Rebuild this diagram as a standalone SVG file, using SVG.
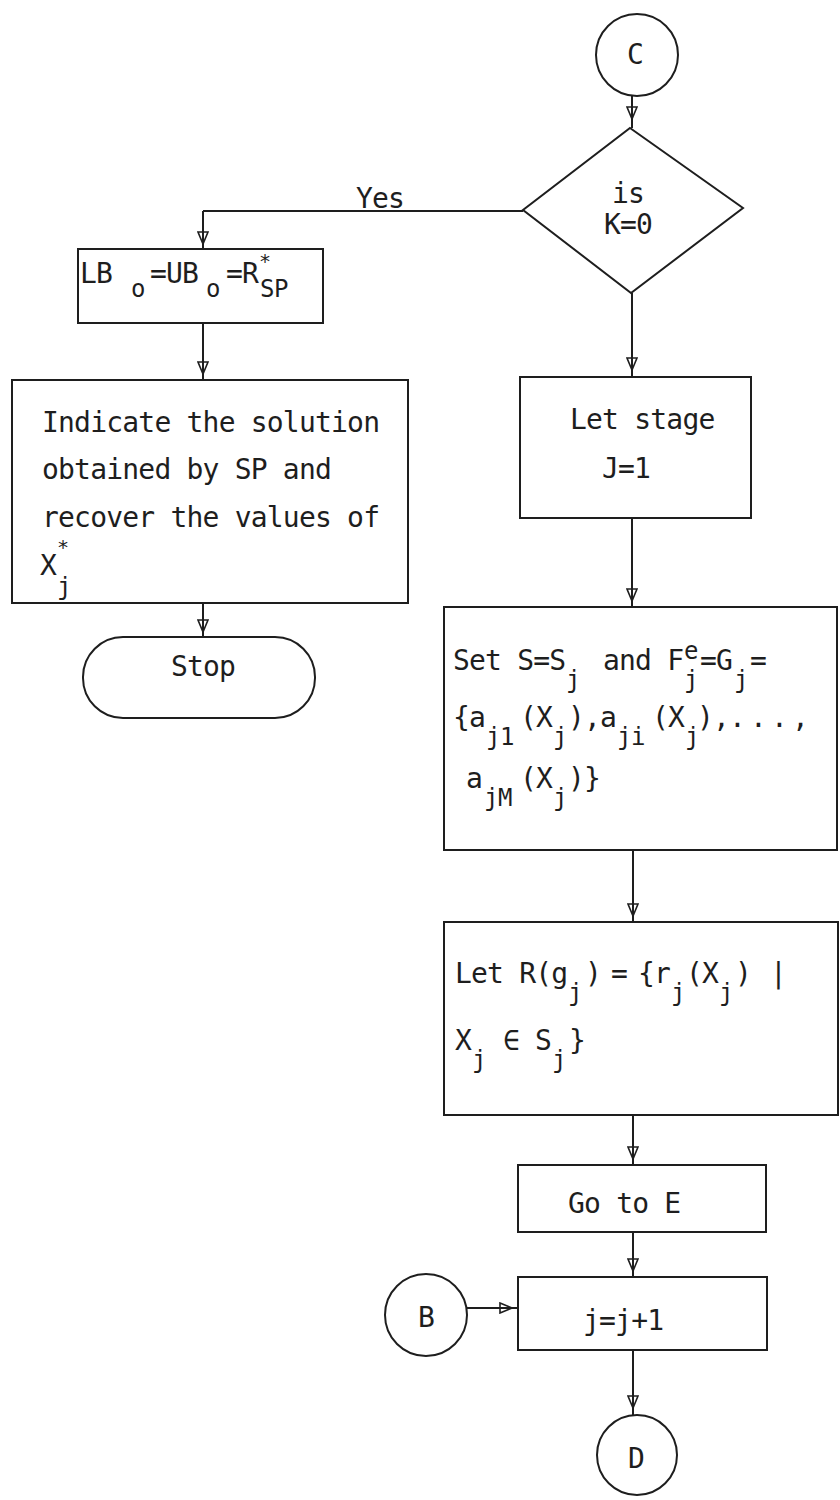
<svg xmlns="http://www.w3.org/2000/svg" width="840" height="1500" viewBox="0 0 840 1500">
<style>
.sh{fill:#fff;stroke:#1e1e1e;stroke-width:2}
.ln{fill:none;stroke:#1e1e1e;stroke-width:2}
.t{font-family:"DejaVu Sans Mono","Liberation Mono",monospace;font-size:28px;fill:#1e1e1e;letter-spacing:-0.8px}
.s{font-size:24px;letter-spacing:-0.4px}
.st{font-size:20px;letter-spacing:0}
.m{text-anchor:middle}
</style>
<defs>
<marker id="ah" viewBox="0 0 14 12" refX="13" refY="6" markerWidth="14" markerHeight="12" markerUnits="userSpaceOnUse" orient="auto">
<path d="M1,1 L13,6 L1,11 Z" fill="none" stroke="#1e1e1e" stroke-width="1.6"/>
</marker>
</defs>
<rect width="840" height="1500" fill="#fff"/>

<g id="connectors">
<path class="ln" marker-mid="url(#ah)" d="M632,96 V119 V128"/>
<path class="ln" d="M523,211 H203"/>
<path class="ln" marker-mid="url(#ah)" d="M203,211 V244 V249"/>
<path class="ln" marker-mid="url(#ah)" d="M203,323 V374 V380"/>
<path class="ln" marker-mid="url(#ah)" d="M203,603 V632 V637"/>
<path class="ln" marker-mid="url(#ah)" d="M632,293 V370 V377"/>
<path class="ln" marker-mid="url(#ah)" d="M632,518 V601 V607"/>
<path class="ln" marker-mid="url(#ah)" d="M633,850 V916 V922"/>
<path class="ln" marker-mid="url(#ah)" d="M633,1115 V1159 V1165"/>
<path class="ln" marker-mid="url(#ah)" d="M633,1232 V1271 V1277"/>
<path class="ln" marker-mid="url(#ah)" d="M467,1308 H512 H518"/>
<path class="ln" marker-mid="url(#ah)" d="M633,1350 V1408 V1415"/>
<text class="t" x="356" y="208">Yes</text>
</g>

<g id="nodeC">
<circle class="sh" cx="637" cy="55" r="41"/>
<text class="t m" x="635" y="64">C</text>
</g>

<g id="decision">
<polygon class="sh" points="630,128 743,208 631,293 523,210"/>
<text class="t m" x="628" y="203">is</text>
<text class="t m" x="628" y="234">K=0</text>
</g>

<g id="lbBox">
<rect class="sh" x="78" y="249" width="245" height="74"/>
<text class="t"><tspan x="80" y="283">LB</tspan><tspan class="s" x="131" y="297">o</tspan><tspan x="150" y="283">=UB</tspan><tspan class="s" x="206" y="297">o</tspan><tspan x="226" y="283">=R</tspan><tspan class="st" x="259" y="268">*</tspan><tspan class="s" x="260" y="297">SP</tspan></text>
</g>

<g id="indicateBox">
<rect class="sh" x="12" y="380" width="396" height="223"/>
<text class="t" x="42" y="432">Indicate the solution</text>
<text class="t" x="42" y="479">obtained by SP and</text>
<text class="t" x="42" y="527">recover the values of</text>
<text class="t"><tspan x="40" y="575">X</tspan><tspan class="st" x="57" y="554">*</tspan><tspan class="s" x="57" y="595">j</tspan></text>
</g>

<g id="stop">
<rect class="sh" x="83" y="637" width="232" height="81" rx="40" ry="40"/>
<text class="t m" x="203" y="676">Stop</text>
</g>

<g id="letStage">
<rect class="sh" x="520" y="377" width="231" height="141"/>
<text class="t" x="570" y="429">Let stage</text>
<text class="t" x="602" y="478">J=1</text>
</g>

<g id="setBox">
<rect class="sh" x="444" y="607" width="393" height="243"/>
<text class="t"><tspan x="453" y="670">Set S=S</tspan><tspan class="s" x="566" y="688">j</tspan><tspan x="603" y="670">and F</tspan><tspan class="s" x="684" y="659">e</tspan><tspan class="s" x="684" y="688">j</tspan><tspan x="700" y="670">=G</tspan><tspan class="s" x="734" y="688">j</tspan><tspan x="750" y="670">=</tspan></text>
<text class="t"><tspan x="453" y="727">{a</tspan><tspan class="s" x="486" y="745">j1</tspan><tspan x="520" y="727">(X</tspan><tspan class="s" x="553" y="745">j</tspan><tspan x="568" y="727">),a</tspan><tspan class="s" x="617" y="745">ji</tspan><tspan x="652" y="727">(X</tspan><tspan class="s" x="685" y="745">j</tspan><tspan x="697" y="727">),</tspan><tspan x="729" y="727">.</tspan><tspan x="750" y="727">.</tspan><tspan x="771" y="727">.</tspan><tspan x="792" y="727">,</tspan></text>
<text class="t"><tspan x="466" y="788">a</tspan><tspan class="s" x="484" y="806">jM</tspan><tspan x="520" y="788">(X</tspan><tspan class="s" x="553" y="806">j</tspan><tspan x="568" y="788">)}</tspan></text>
</g>

<g id="letRBox">
<rect class="sh" x="444" y="922" width="394" height="193"/>
<text class="t"><tspan x="455" y="983">Let R(g</tspan><tspan class="s" x="568" y="1001">j</tspan><tspan x="585" y="983">)</tspan><tspan x="611" y="983">=</tspan><tspan x="638" y="983">{r</tspan><tspan class="s" x="671" y="1001">j</tspan><tspan x="686" y="983">(X</tspan><tspan class="s" x="719" y="1001">j</tspan><tspan x="735" y="983">)</tspan><tspan x="770" y="983">|</tspan></text>
<text class="t"><tspan x="455" y="1050">X</tspan><tspan class="s" x="472" y="1068">j</tspan><tspan x="503" y="1050">∈</tspan><tspan x="535" y="1050">S</tspan><tspan class="s" x="552" y="1068">j</tspan><tspan x="569" y="1050">}</tspan></text>
</g>

<g id="gotoE">
<rect class="sh" x="518" y="1165" width="248" height="67"/>
<text class="t" x="568" y="1213">Go to E</text>
</g>

<g id="increment">
<rect class="sh" x="518" y="1277" width="249" height="73"/>
<text class="t" x="583" y="1330">j=j+1</text>
</g>

<g id="nodeB">
<circle class="sh" cx="426" cy="1315" r="41"/>
<text class="t m" x="426" y="1327">B</text>
</g>

<g id="nodeD">
<circle class="sh" cx="637" cy="1455" r="40"/>
<text class="t m" x="636" y="1468">D</text>
</g>
</svg>
